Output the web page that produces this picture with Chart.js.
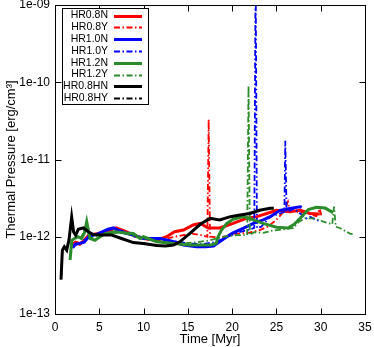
<!DOCTYPE html>
<html>
<head>
<meta charset="utf-8">
<script src="https://cdn.jsdelivr.net/npm/chart.js@4"></script>
<style>
html,body{margin:0;padding:0;background:#fff;}
canvas{display:block;}
</style>
</head>
<body>
<canvas id="c" width="374" height="347"></canvas>
<script>
// ---------- data ----------
const seriesLabels = ['HR0.8N','HR0.8Y','HR1.0N','HR1.0Y','HR1.2N','HR1.2Y','HR0.8HN','HR0.8HY'];

const tHR08N = [2.0,2.3,2.8,3.3,3.8,4.9,6.0,6.9,7.9,8.85,10.0,11.5,12.6,13.5,14.5,15.6,16.4,17.3,18.6,20.1,21.6,22.8,23.9,25.0,26.5,27.7,28.8,29.9];
const pHR08N = [0.8e-12,0.85e-12,0.8e-12,0.9e-12,1.05e-12,1.1e-12,1.2e-12,1.3e-12,1.18e-12,1.05e-12,0.95e-12,0.9e-12,1.0e-12,1.16e-12,1.22e-12,1.42e-12,1.49e-12,1.3e-12,1.3e-12,1.49e-12,1.73e-12,1.82e-12,2.0e-12,2.2e-12,2.1e-12,2.2e-12,2.0e-12,1.97e-12];

const tHR08Y = [2.0,2.5,3.0,3.8,4.9,6.0,7.0,8.0,9.0,10.5,12.0,13.5,14.5,15.5,16.5,17.2,17.35,17.5,18.5,19.5,20.5,21.8,23.1,24.0,25.0,25.8,26.3,26.5,27.5,28.5,29.5,29.9,30.1];
const pHR08Y = [0.8e-12,0.85e-12,0.85e-12,1.0e-12,1.1e-12,1.2e-12,1.25e-12,1.15e-12,1.0e-12,0.92e-12,0.92e-12,1.0e-12,1.05e-12,1.1e-12,1.05e-12,1.0e-12,3.3e-11,1.0e-12,0.98e-12,1.02e-12,1.1e-12,1.12e-12,1.22e-12,1.35e-12,1.65e-12,2.1e-12,2.85e-12,2.2e-12,2.1e-12,2.0e-12,1.85e-12,2.3e-12,1.8e-12];

const tHR10N = [2.0,2.3,2.8,3.3,3.8,4.9,6.0,6.6,7.5,8.85,10.0,11.0,11.9,13.4,14.5,16.0,17.0,17.9,18.5,19.4,20.1,21.3,22.4,23.5,24.3,25.4,26.5,27.7,27.85];
const pHR10N = [0.72e-12,0.8e-12,0.82e-12,0.85e-12,1.0e-12,1.1e-12,1.25e-12,1.3e-12,1.15e-12,1.05e-12,0.95e-12,0.95e-12,0.95e-12,0.86e-12,0.78e-12,0.74e-12,0.74e-12,0.76e-12,0.85e-12,1.0e-12,1.12e-12,1.29e-12,1.49e-12,1.65e-12,1.82e-12,2.2e-12,2.33e-12,2.45e-12,2.4e-12];

const tHR10Y = [2.0,2.5,3.0,3.8,4.9,6.0,7.0,8.0,9.0,10.5,12.0,13.5,15.0,16.5,18.0,19.5,20.5,21.5,22.5,22.65,22.8,23.3,24.3,25.4,25.9,26.0,26.15,27.0,28.4,28.8,29.5,29.9];
const pHR10Y = [0.75e-12,0.8e-12,0.85e-12,1.0e-12,1.1e-12,1.25e-12,1.25e-12,1.15e-12,1.0e-12,0.95e-12,0.92e-12,0.88e-12,0.82e-12,0.8e-12,0.85e-12,1.0e-12,1.12e-12,1.2e-12,1.3e-12,3e-9,1.3e-12,1.35e-12,1.82e-12,2.0e-12,2.1e-12,1.75e-11,2.1e-12,2.3e-12,1.73e-12,1.82e-12,1.65e-12,1.6e-12];

const tHR12N = [1.7,1.9,2.2,2.6,3.0,3.3,3.58,3.95,4.5,5.65,6.8,8.0,8.85,9.6,10.0,11.5,13.4,15.2,17.5,17.9,18.2,18.4,18.8,19.4,20.1,21.3,22.4,23.5,25.0,26.3,27.0,27.7,28.6,29.5,30.5,31.4];
const pHR12N = [0.5e-12,0.9e-12,0.95e-12,1.0e-12,0.95e-12,1.1e-12,1.57e-12,0.95e-12,0.9e-12,1.1e-12,1.16e-12,1.12e-12,1.1e-12,0.95e-12,1.0e-12,0.86e-12,0.82e-12,0.78e-12,0.78e-12,0.8e-12,0.82e-12,1.0e-12,1.22e-12,1.49e-12,1.68e-12,1.82e-12,1.65e-12,1.49e-12,1.33e-12,1.3e-12,1.45e-12,1.75e-12,2.25e-12,2.4e-12,2.35e-12,2.05e-12];

const tHR12Y = [1.7,1.9,2.3,3.0,3.5,4.0,5.0,6.0,7.0,8.0,9.0,10.0,11.5,13.0,14.5,16.0,17.5,19.0,20.5,21.7,21.85,22.0,22.5,23.5,24.5,25.8,26.9,27.5,28.2,29.2,30.3,31.3,31.5,31.7,32.2,33.3,33.6];
const pHR12Y = [0.55e-12,0.9e-12,0.95e-12,1.0e-12,1.4e-12,0.95e-12,1.05e-12,1.12e-12,1.12e-12,1.1e-12,1.0e-12,0.95e-12,0.88e-12,0.84e-12,0.82e-12,0.85e-12,0.9e-12,1.0e-12,1.05e-12,1.05e-12,9e-11,1.05e-12,1.15e-12,1.12e-12,1.2e-12,1.25e-12,1.3e-12,1.55e-12,1.73e-12,1.73e-12,1.57e-12,1.45e-12,2.45e-12,1.35e-12,1.29e-12,1.1e-12,1.08e-12];

const tHR08HN = [0.68,0.83,1.05,1.32,1.58,1.88,2.1,2.33,2.63,3.2,3.76,4.33,5.27,6.4,7.5,8.85,9.97,11.5,12.5,13.36,14.1,15.2,16.4,17.5,18.6,19.8,20.9,22.0,23.1,24.3,24.7];
const pHR08HN = [2.8e-13,6.7e-13,7.4e-13,6.7e-13,9.1e-13,1.8e-12,1.15e-12,1.05e-12,1.25e-12,1.3e-12,1.16e-12,1.07e-12,1.05e-12,1.05e-12,0.95e-12,0.84e-12,0.82e-12,0.77e-12,0.76e-12,0.78e-12,0.86e-12,1.1e-12,1.45e-12,1.73e-12,1.65e-12,1.82e-12,1.91e-12,2.0e-12,2.2e-12,2.33e-12,2.33e-12];

const tHR08HY = [0.68,0.83,1.05,1.32,1.58,1.88,2.1,2.33,2.63,3.2,3.76,4.33,5.27,6.4,7.5,8.85,9.97,11.5,12.5,13.36,14.1,15.2,16.4,17.5,18.6,19.8,20.9,22.0,23.1,24.3];
const pHR08HY = [2.8e-13,6.7e-13,7.4e-13,6.7e-13,9.1e-13,1.8e-12,1.15e-12,1.05e-12,1.25e-12,1.3e-12,1.16e-12,1.07e-12,1.05e-12,1.05e-12,0.95e-12,0.84e-12,0.82e-12,0.77e-12,0.76e-12,0.78e-12,0.86e-12,1.1e-12,1.45e-12,1.73e-12,1.65e-12,1.82e-12,1.91e-12,2.0e-12,2.2e-12,2.33e-12];

const xTickValues = [0,5,10,15,20,25,30,35];
const xTickLabels = ['0','5','10','15','20','25','30','35'];
const yTickValues = [1e-13,1e-12,1e-11,1e-10,1e-9];
const yTickLabels = ['1e-13','1e-12','1e-11','1e-10','1e-09'];

// ---------- styles ----------
const RED = '#ff0000', BLUE = '#0000ff', GREEN = '#2a8c2a', BLACK = '#000000';
const DASH = [6,2.5,1.5,2.5];
const seriesT = [tHR08N,tHR08Y,tHR10N,tHR10Y,tHR12N,tHR12Y,tHR08HN,tHR08HY];
const seriesP = [pHR08N,pHR08Y,pHR10N,pHR10Y,pHR12N,pHR12Y,pHR08HN,pHR08HY];
const colors = [RED,RED,BLUE,BLUE,GREEN,GREEN,BLACK,BLACK];
const dashed = [false,true,false,true,false,true,false,true];

const datasets = seriesLabels.map((lab,i)=>({
  label: lab,
  data: seriesT[i].map((t,j)=>({x:t,y:seriesP[i][j]})),
  borderColor: colors[i],
  backgroundColor: colors[i],
  borderWidth: dashed[i] ? 1.8 : 3,
  borderDash: dashed[i] ? DASH : [],
  pointRadius: 0,
  tension: 0,
  fill: false,
  clip: 0,
  order: 8 - i
}));

const FONT = '"Liberation Sans", Arial, sans-serif';

const framePlugin = {
  id: 'frame',
  afterDraw(chart){
    const {ctx, chartArea:a, scales} = chart;
    ctx.save();
    ctx.strokeStyle = '#000';
    ctx.lineWidth = 1;
    ctx.setLineDash([]);
    const L = Math.round(a.left)+0.5, R = Math.round(a.right)+0.5, T = Math.round(a.top)+0.5, B = Math.round(a.bottom)+0.5;
    ctx.strokeRect(L, T, R-L, B-T);
    const tl = 6;
    ctx.beginPath();
    xTickValues.forEach(v=>{
      const px = Math.round(scales.x.getPixelForValue(v))+0.5;
      ctx.moveTo(px,B); ctx.lineTo(px,B-tl);
      ctx.moveTo(px,T); ctx.lineTo(px,T+tl);
    });
    yTickValues.forEach(v=>{
      const py = Math.round(scales.y.getPixelForValue(v))+0.5;
      ctx.moveTo(L,py); ctx.lineTo(L+tl,py);
      ctx.moveTo(R,py); ctx.lineTo(R-tl,py);
    });
    ctx.stroke();

    // legend
    const bx = 62, by = 8, bw = 86, bh = 96;
    ctx.fillStyle = '#fff';
    ctx.fillRect(bx, by, bw, bh);
    ctx.strokeRect(bx+0.5, by+0.5, bw, bh);
    ctx.font = '10.5px ' + FONT;
    ctx.textAlign = 'right';
    ctx.textBaseline = 'middle';
    chart.data.datasets.forEach((ds,i)=>{
      const y = 15.5 + i*11.8;
      ctx.fillStyle = '#000';
      ctx.fillText(ds.label, 108, y);
      ctx.strokeStyle = ds.borderColor;
      ctx.lineWidth = ds.borderWidth;
      ctx.setLineDash(ds.borderDash || []);
      ctx.beginPath();
      ctx.moveTo(114, Math.round(y)+0.5);
      ctx.lineTo(142, Math.round(y)+0.5);
      ctx.stroke();
    });
    ctx.restore();
  }
};

new Chart(document.getElementById('c'), {
  type: 'line',
  data: { datasets },
  plugins: [framePlugin],
  options: {
    responsive: false,
    animation: false,
    layout: { padding: { top: 5, right: 9, left: 0, bottom: 0 } },
    plugins: { legend: { display: false }, tooltip: { enabled: false } },
    scales: {
      x: {
        type: 'linear', min: 0, max: 35,
        afterBuildTicks: s => { s.ticks = xTickValues.map(v=>({value:v})); },
        ticks: {
          color: '#000', padding: 6, maxRotation: 0, autoSkip: false,
          font: { family: FONT, size: 12 },
          callback: v => { const k = xTickValues.indexOf(v); return k >= 0 ? xTickLabels[k] : ''; }
        },
        grid: { display: false, drawTicks: false, tickLength: 0 },
        border: { display: false },
        title: { display: true, text: 'Time [Myr]', color: '#000', font: { family: FONT, size: 13 }, padding: { top: 0, bottom: 0 } },
        afterFit: s => { s.height = 33; s.paddingLeft = 0; s.paddingRight = 0; }
      },
      y: {
        type: 'logarithmic', min: 1e-13, max: 1e-9,
        afterBuildTicks: s => { s.ticks = yTickValues.map(v=>({value:v})); },
        ticks: {
          color: '#000', padding: 5, autoSkip: false,
          font: { family: FONT, size: 12 },
          callback: v => { const k = yTickValues.findIndex(t => Math.abs(t - v)/t < 1e-6); return k >= 0 ? yTickLabels[k] : ''; }
        },
        grid: { display: false, drawTicks: false, tickLength: 0 },
        border: { display: false },
        title: { display: true, text: 'Thermal Pressure [erg/cm³]', color: '#000', font: { family: FONT, size: 13 }, padding: { top: 4, bottom: 0 } },
        afterFit: s => { s.width = 55; s.paddingTop = 0; s.paddingBottom = 0; }
      }
    }
  }
});
</script>
</body>
</html>
